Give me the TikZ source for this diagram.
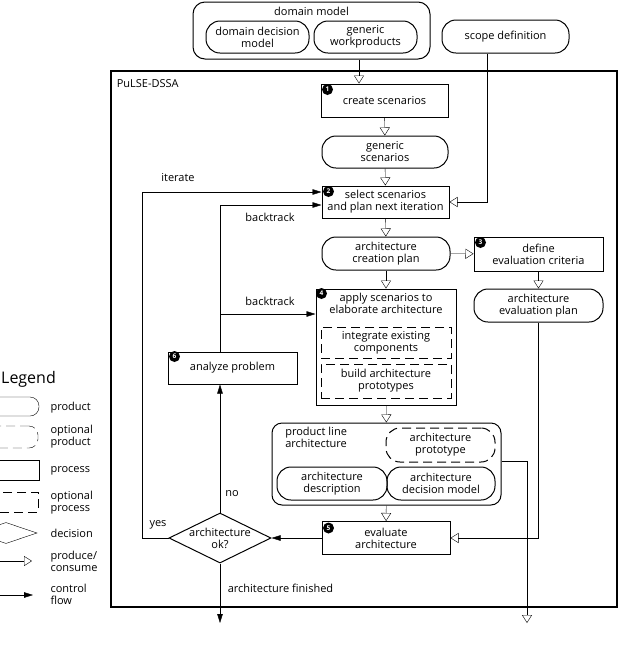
\documentclass[tikz,border=0pt]{standalone}
\usepackage{fontspec}
\setmainfont{Open Sans}
\usetikzlibrary{shapes.geometric,arrows.meta}
\pgfdeclarelayer{bg}
\pgfsetlayers{bg,main}

\tikzset{
    product/.style={draw, rounded corners=14pt, align=center, inner sep=1pt},
    optproduct/.style={product, dash pattern=on 9pt off 5pt},
    process/.style={draw, align=center, inner sep=1pt},
    optprocess/.style={process, dash pattern=on 9pt off 5pt},
    decision/.style={draw, diamond, inner sep=0pt},
    num/.style={circle, fill=black, text=white, inner sep=0pt, minimum size=11pt, font=\fontsize{6.5}{6.5}\selectfont\bfseries},
    produce/.style={-{Triangle[open, length=8pt, width=10pt]}},
    control/.style={-{Triangle[length=9pt, width=5.5pt]}},
}

\begin{document}
\begin{tikzpicture}[x=1pt, y=-1pt, font=\fontsize{11}{12}\selectfont, line width=1pt]
    \useasboundingbox (0,0) rectangle (621,657);

    % inputs
    \node (domain) [product, rounded corners=12pt, minimum width=237pt, minimum height=57pt, label={[anchor=north, inner sep=2pt, yshift=-3pt]north:domain model}] at (311.5, 30.5) {};
    \node (ddm) [product, minimum width=103pt, minimum height=32pt] at (257.5, 37) {domain decision\\model};
    \node (gwp) [product, minimum width=103pt, minimum height=32pt] at (365.5, 37) {generic\\workproducts};
    \node (scope) [product, minimum width=127pt, minimum height=33pt] at (505.5, 36.5) {scope definition};

    % method frame
    \node (frame) [draw, line width=1.8pt, minimum width=506pt, minimum height=536pt] at (364, 339) {};
    \node (dssa) [anchor=west] at (113, 84) {PuLSE-DSSA};

    % steps and products
    \node (create) [process, minimum width=127pt, minimum height=33pt] at (384.5, 100.5) {create scenarios};
    \node (scen) [product, minimum width=126pt, minimum height=32pt] at (385, 152) {generic\\scenarios};
    \node (select) [process, minimum width=127pt, minimum height=32pt] at (385.5, 202) {select scenarios\\and plan next iteration};
    \node (acp) [product, minimum width=128pt, minimum height=33pt] at (386, 253.5) {architecture\\creation plan};
    \node (criteria) [process, minimum width=129pt, minimum height=34pt] at (538.5, 254) {define\\evaluation criteria};
    \node (evalplan) [product, minimum width=129pt, minimum height=33pt] at (538.5, 305.5) {architecture\\evaluation plan};
    \node (apply) [process, minimum width=140pt, minimum height=116pt, label={[anchor=north, align=center, yshift=-1pt]north:apply scenarios to\\elaborate architecture}] at (386, 347) {};
    \node (integrate) [optprocess, minimum width=130pt, minimum height=31pt] at (386, 342.5) {integrate existing\\components};
    \node (build) [optprocess, minimum width=130pt, minimum height=34pt] at (386, 381) {build architecture\\prototypes};
    \node (analyze) [process, minimum width=129pt, minimum height=32pt] at (232.5, 368) {analyze problem};
    \node (pla) [product, rounded corners=10pt, minimum width=229pt, minimum height=82pt, label={[anchor=north west, align=left, xshift=10pt, yshift=-1pt]north west:product line\\architecture}] at (386.5, 464) {};
    \node (proto) [optproduct, minimum width=109pt, minimum height=34pt] at (440.5, 445) {architecture\\prototype};
    \node (desc) [product, minimum width=110pt, minimum height=33pt] at (332, 483.5) {architecture\\description};
    \node (adm) [product, minimum width=108pt, minimum height=33pt] at (441, 483.5) {architecture\\decision model};
    \node (evaluate) [process, minimum width=128pt, minimum height=33pt] at (386, 538) {evaluate\\architecture};
    \node (ok) [decision, minimum width=102pt, minimum height=50pt, label={[align=center, inner sep=0pt]center:architecture\\ok?}] at (220, 538) {};

    % step numbers
    \node (m1) [num] at ([shift={(7pt,-6pt)}]create.north west) {1};
    \node (m2) [num] at ([shift={(7pt,-6pt)}]select.north west) {2};
    \node (m3) [num] at ([shift={(7pt,-6pt)}]criteria.north west) {3};
    \node (m4) [num] at ([shift={(6pt,-5pt)}]apply.north west) {4};
    \node (m5) [num] at ([shift={(7pt,-7pt)}]evaluate.north west) {5};
    \node (m6) [num] at ([shift={(7pt,-5pt)}]analyze.north west) {6};

    % free ends
    \coordinate (protoout) at (527, 623);
    \coordinate (done) at (220, 623);

    % edge labels
    \node (iterate) at (178, 178) {iterate};
    \node (back1) at (270, 217) {backtrack};
    \node (back2) at (270, 301) {backtrack};
    \node (yes) at (158, 525) {yes};
    \node (no) at (232, 494) {no};
    \node (finished) [anchor=west] at (224, 588) {architecture finished};

    \begin{pgfonlayer}{bg}
        \draw[produce] ([xshift=47.5pt]domain.south) -- ([xshift=-25.5pt]create.north);
        \draw[produce] ([xshift=-18.5pt]scope.south) |- (select.east);
        \draw[produce] (create) -- (scen);
        \draw[produce] (scen) -- (select);
        \draw[produce] (select) -- (acp);
        \draw[produce] (acp) -- (criteria);
        \draw[produce] (criteria) -- (evalplan);
        \draw[produce] (acp) -- (apply);
        \draw[produce] (apply) -- (pla);
        \draw[produce] (pla) -- (evaluate);
        \draw[produce] (evalplan.south) |- (evaluate.east);
        \draw[produce] ([yshift=3pt]pla.east) -| (protoout);
        \draw[control] (evaluate.west) -- (ok.east);
        \draw[control] (ok.north) -- (ok.north |- analyze.south);
        \draw[control] (ok.north |- analyze.north) |- ([yshift=-3pt]select.west);
        \draw[control] ([yshift=33pt]apply.west -| ok.north) -- ([yshift=33pt]apply.west);
        \draw[control] (ok.west) -- ++(-26,0) |- ([yshift=10pt]select.west);
        \draw[control] (ok.south) -- (done);
    \end{pgfonlayer}

    % legend
    \node (legend) [anchor=west, inner sep=0pt] at (1, 379) {\fontsize{16}{16}\selectfont Legend};
    \node (lproduct) [product, rounded corners=9pt, minimum width=80pt, minimum height=19pt] at (-1, 406.5) {};
    \node (loptproduct) [optproduct, rounded corners=9pt, minimum width=80pt, minimum height=22pt] at (-2, 437) {};
    \node (lprocess) [process, minimum width=80pt, minimum height=20pt] at (-1, 470) {};
    \node (loptprocess) [optprocess, minimum width=80pt, minimum height=20pt] at (-2, 502) {};
    \node (ldecision) [decision, minimum width=62pt, minimum height=21pt] at (6, 533) {};
    \coordinate (lprod0) at (-5, 561);
    \coordinate (lprod1) at (32, 561);
    \coordinate (lctrl0) at (-5, 595);
    \coordinate (lctrl1) at (33, 595);
    \draw[produce] (lprod0) -- (lprod1);
    \draw[control] (lctrl0) -- (lctrl1);
    \node (tproduct) [anchor=west] at (47, 408) {product};
    \node (toptproduct) [anchor=west, align=left] at (47, 437) {optional\\product};
    \node (tprocess) [anchor=west] at (47, 471) {process};
    \node (toptprocess) [anchor=west, align=left] at (47, 503) {optional\\process};
    \node (tdecision) [anchor=west] at (47, 533) {decision};
    \node (tproduce) [anchor=west, align=left] at (47, 561) {produce/\\consume};
    \node (tcontrol) [anchor=west, align=left] at (47, 594) {control\\flow};
\end{tikzpicture}
\end{document}
